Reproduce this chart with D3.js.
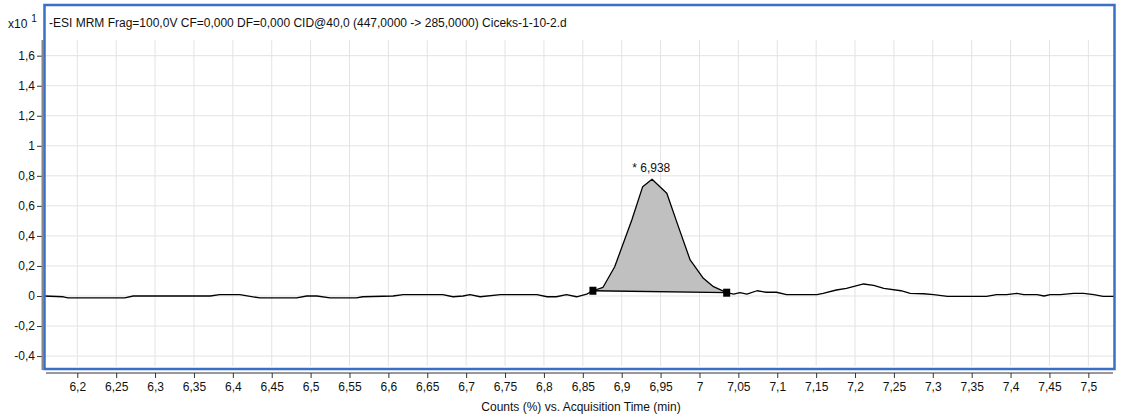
<!DOCTYPE html>
<html>
<head>
<meta charset="utf-8">
<script src="https://d3js.org/d3.v7.min.js"></script>
<style>
    body { margin: 0; background: #ffffff; }
    svg text { font-family: "Liberation Sans", Arial, sans-serif; fill: #111; }
</style>
</head>
<body>
<svg id="drawing_region"></svg>
<script>
// chromatogram trace (time in min, counts x10^1)
const times = [6.157, 6.182, 6.188, 6.261, 6.272, 6.371, 6.383, 6.409, 6.435, 6.482,
               6.495, 6.508, 6.525, 6.559, 6.567, 6.606, 6.619, 6.670, 6.683, 6.696,
               6.705, 6.718, 6.744, 6.791, 6.804, 6.816, 6.829, 6.842, 6.855, 6.863,
               6.876, 6.891, 6.913, 6.927, 6.939, 6.958, 6.973, 6.988, 7.005, 7.018,
               7.035, 7.044, 7.052, 7.061, 7.074, 7.086, 7.099, 7.112, 7.151, 7.159,
               7.176, 7.189, 7.211, 7.224, 7.237, 7.259, 7.271, 7.288, 7.301, 7.319,
               7.369, 7.382, 7.395, 7.408, 7.417, 7.434, 7.443, 7.451, 7.464, 7.481,
               7.494, 7.507, 7.519, 7.533];
const counts = [0, -0.005, -0.013, -0.013, 0, 0, 0.009, 0.009, -0.013, -0.013,
                0, 0, -0.013, -0.013, -0.005, 0, 0.009, 0.009, -0.005, 0,
                0.009, -0.005, 0.009, 0.009, -0.005, -0.005, 0.009, -0.005, 0.013, 0.035,
                0.058, 0.195, 0.506, 0.728, 0.777, 0.684, 0.46, 0.24, 0.118, 0.062,
                0.022, 0.013, 0.022, 0.013, 0.035, 0.025, 0.025, 0.009, 0.009, 0.018,
                0.04, 0.051, 0.08, 0.071, 0.051, 0.035, 0.018, 0.015, 0.009, -0.002,
                -0.002, 0.009, 0.009, 0.018, 0.009, 0.009, 0, 0.009, 0.009, 0.018,
                0.018, 0.009, -0.002, -0.002];

// integrated peak: start / end of the baseline and the apex label
const peakStart = [6.863, 0.035];
const peakEnd = [7.035, 0.022];
const peakApex = [6.938, 0.777];
const peakLabel = "* 6,938";

const xTicks = [6.2, 6.25, 6.3, 6.35, 6.4, 6.45, 6.5, 6.55, 6.6, 6.65, 6.7, 6.75, 6.8,
                6.85, 6.9, 6.95, 7, 7.05, 7.1, 7.15, 7.2, 7.25, 7.3, 7.35, 7.4, 7.45, 7.5];
const yTicks = [-0.4, -0.2, 0, 0.2, 0.4, 0.6, 0.8, 1, 1.2, 1.4, 1.6];

const title = "-ESI MRM Frag=100,0V CF=0,000 DF=0,000 CID@40,0 (447,0000 -> 285,0000) Ciceks-1-10-2.d";
const xTitle = "Counts (%) vs. Acquisition Time (min)";

const width = 1123, height = 420;
const plot = { left: 44, right: 1114, top: 40, bottom: 366 };

const locale = d3.formatLocale({ decimal: ",", thousands: ".", grouping: [3], currency: ["", ""], minus: "-" });
const fmt = locale.format("~g");

const svg = d3.select("#drawing_region")
    .attr("width", width)
    .attr("height", height);

const xscale = d3.scaleLinear()
    .domain([6.1572, 7.5330])
    .range([plot.left, plot.right]);

const yscale = d3.scaleLinear()
    .domain([1.7044, -0.466])
    .range([plot.top, plot.bottom]);

// grid
svg.append("g").selectAll("line")
    .data(xTicks).join("line")
    .attr("x1", d => xscale(d)).attr("x2", d => xscale(d))
    .attr("y1", plot.top).attr("y2", plot.bottom)
    .attr("stroke", "#e3e3e3").attr("stroke-width", 1);

svg.append("g").selectAll("line")
    .data(yTicks).join("line")
    .attr("x1", plot.left).attr("x2", plot.right)
    .attr("y1", d => yscale(d)).attr("y2", d => yscale(d))
    .attr("stroke", "#e3e3e3").attr("stroke-width", 1);

// trace data
const trace = times.map((t, i) => [t, counts[i]]);
const inPeak = trace.filter(d => d[0] >= peakStart[0] && d[0] <= peakEnd[0]);

const line = d3.line()
    .x(d => xscale(d[0]))
    .y(d => yscale(d[1]));

// peak area: trace down to the drawn baseline
svg.append("path")
    .datum([...inPeak, peakEnd, peakStart])
    .attr("d", d => line(d) + "Z")
    .attr("fill", "#c0c0c0")
    .attr("stroke", "none");

svg.append("path")
    .datum(trace)
    .attr("d", line)
    .attr("fill", "none")
    .attr("stroke", "#000")
    .attr("stroke-width", 1.3)
    .attr("stroke-linejoin", "round");

svg.append("line")
    .attr("x1", xscale(peakStart[0])).attr("y1", yscale(peakStart[1]))
    .attr("x2", xscale(peakEnd[0])).attr("y2", yscale(peakEnd[1]))
    .attr("stroke", "#000").attr("stroke-width", 1.3);

svg.append("g").selectAll("rect")
    .data([peakStart, peakEnd]).join("rect")
    .attr("x", d => xscale(d[0]) - 3.5)
    .attr("y", d => yscale(d[1]) - 4)
    .attr("width", 7).attr("height", 8)
    .attr("fill", "#000");

svg.append("text")
    .attr("x", xscale(peakApex[0]))
    .attr("y", yscale(peakApex[1]) - 7)
    .attr("text-anchor", "middle")
    .attr("font-size", 12)
    .text(peakLabel);

// y axis
const yaxis = d3.axisLeft(yscale)
    .tickValues(yTicks)
    .tickFormat(fmt)
    .tickSize(5)
    .tickPadding(2);

const yaxis_group = svg.append("g")
    .attr("transform", `translate(${plot.left - 2},0)`)
    .call(yaxis);
yaxis_group.select(".domain").remove();
yaxis_group.selectAll(".tick line").attr("stroke", "#333");
yaxis_group.selectAll(".tick text").attr("font-size", 12).attr("font-family", "Liberation Sans, Arial, sans-serif");

svg.append("line")
    .attr("x1", plot.left - 1.5).attr("x2", plot.left - 1.5)
    .attr("y1", plot.top).attr("y2", plot.bottom + 4)
    .attr("stroke", "#888").attr("stroke-width", 2);

// x axis
const xaxis = d3.axisBottom(xscale)
    .tickValues(xTicks)
    .tickFormat(fmt)
    .tickSize(5)
    .tickPadding(4);

const xaxis_group = svg.append("g")
    .attr("transform", `translate(0,${plot.bottom + 7})`)
    .call(xaxis);
xaxis_group.select(".domain")
    .attr("d", `M${plot.left + 2},0H${plot.right - 1}`)
    .attr("stroke", "#333");
xaxis_group.selectAll(".tick line").attr("stroke", "#333");
xaxis_group.selectAll(".tick text").attr("font-size", 12).attr("font-family", "Liberation Sans, Arial, sans-serif");

svg.append("text")
    .attr("x", (plot.left + plot.right) / 2 + 2)
    .attr("y", 411)
    .attr("text-anchor", "middle")
    .attr("font-size", 12)
    .text(xTitle);

// frame and title
svg.append("rect")
    .attr("x", plot.left + 0.5).attr("y", 5)
    .attr("width", plot.right - plot.left).attr("height", plot.bottom + 3 - 5)
    .attr("fill", "none")
    .attr("stroke", "#3a6fc8")
    .attr("stroke-width", 2.5);

svg.append("text")
    .attr("x", 49).attr("y", 27)
    .attr("font-size", 12)
    .text(title);

const mult = svg.append("text")
    .attr("x", 8).attr("y", 28)
    .attr("font-size", 12);
mult.append("tspan").text("x10");
mult.append("tspan").attr("dx", 4).attr("dy", -6).attr("font-size", 10).text("1");
</script>
</body>
</html>
